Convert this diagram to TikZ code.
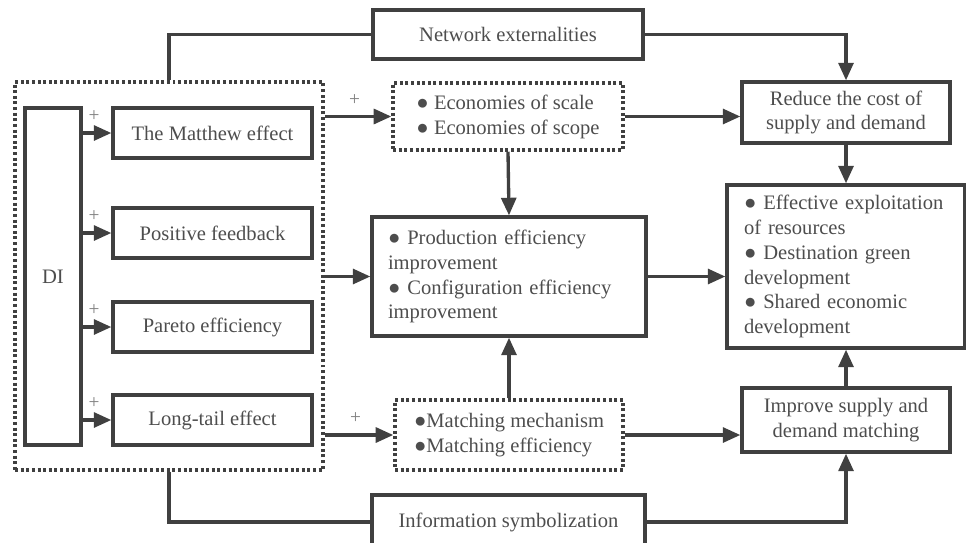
\documentclass[tikz,border=0pt]{standalone}
\usepackage{fontspec}
\setmainfont{Liberation Serif}
\usetikzlibrary{arrows.meta}
\definecolor{linegray}{HTML}{404040}
\definecolor{textgray}{HTML}{4D4D4D}
\begin{document}
\begin{tikzpicture}[x=0.02cm,y=-0.02cm,line width=1.9pt,color=linegray,
        >={Triangle[length=10pt,width=8.5pt]},
        box/.style={draw=linegray,text=textgray,font=\fontsize{11.7}{14.2}\selectfont,align=center,inner sep=0pt},
        dotbox/.style={box,line width=2pt,dash pattern=on 1.7pt off 1.5pt},
        effect/.style={box,minimum width=3.98cm,minimum height=1cm},
        goal/.style={box,minimum width=4.16cm},
        plus/.style={text=gray,font=\fontsize{11}{12}\selectfont,above=2pt}]
            \clip (0,0) rectangle (966,542);

            \node[dotbox,minimum width=6.16cm,minimum height=7.76cm] (outer) at (169,276) {};
            \node[box,minimum width=1.12cm,minimum height=6.74cm] (DI) at (53,276.5) {DI};
            \node[effect] (matthew) at (212.5,133) {The Matthew effect};
            \node[effect] (feedback) at (212.5,233) {Positive feedback};
            \node[effect] (pareto) at (212.5,327) {Pareto efficiency};
            \node[effect] (longtail) at (212.5,420) {Long-tail effect};

            \node[box,minimum width=5.4cm,minimum height=0.98cm] (network) at (508,34.5) {Network externalities};
            \node[dotbox,minimum width=4.6cm,minimum height=1.34cm,align=left] (scale) at (508,116.5) {● Economies of scale\\● Economies of scope};
            \node[box,minimum width=5.48cm,minimum height=2.38cm,text width=4.84cm,align=left] (production) at (509,276.5) {● Production efficiency\\improvement\\● Configuration efficiency\\improvement};
            \node[dotbox,minimum width=4.56cm,minimum height=1.4cm,align=left] (matching) at (509,435) {●Matching mechanism\\●Matching efficiency};
            \node[box,minimum width=5.46cm,minimum height=1.08cm] (info) at (508.5,522) {Information symbolization};

            \node[goal,minimum height=1.22cm] (reduce) at (846,112.5) {Reduce the cost of\\supply and demand};
            \node[box,minimum width=4.76cm,minimum height=3.26cm,text width=4.08cm,align=left] (goals) at (846,266.5) {● Effective exploitation\\of resources\\● Destination green\\development\\● Shared economic\\development};
            \node[goal,minimum height=1.28cm] (improve) at (846,420) {Improve supply and\\demand matching};

            \draw[->] (DI.east |- matthew.west) to node[plus,pos=0.4] {+} (matthew.west); \draw[->] (DI.east |- feedback.west) to node[plus,pos=0.4] {+} (feedback.west);
            \draw[->] (DI.east |- pareto.west) to node[plus,pos=0.4] {+} (pareto.west); \draw[->] (DI.east |- longtail.west) to node[plus,pos=0.4] {+} (longtail.west);

            \draw[->] (outer.east |- scale.west) to node[plus,pos=0.45] {+} (scale.west); \draw[->] (outer.east |- production.west) to (production.west); \draw[->] (outer.east |- matching.west) to node[plus,pos=0.45] {+} (matching.west);
            \draw[->] (scale.south) to (production.north); \draw[->] (matching.north) to (production.south);
            \draw[->] (scale.east) to (scale.east -| reduce.west); \draw[->] (production.east) to (production.east -| goals.west); \draw[->] (matching.east) to (matching.east -| improve.west);
            \draw[->] (reduce.south) to (goals.north); \draw[->] (improve.north) to (goals.south);

            \draw (outer.north) |- (network.west); \draw[->] (network.east) -| (reduce.north);
            \draw (outer.south) |- (info.west); \draw[->] (info.east) -| (improve.south);
        \end{tikzpicture}
\end{document}
